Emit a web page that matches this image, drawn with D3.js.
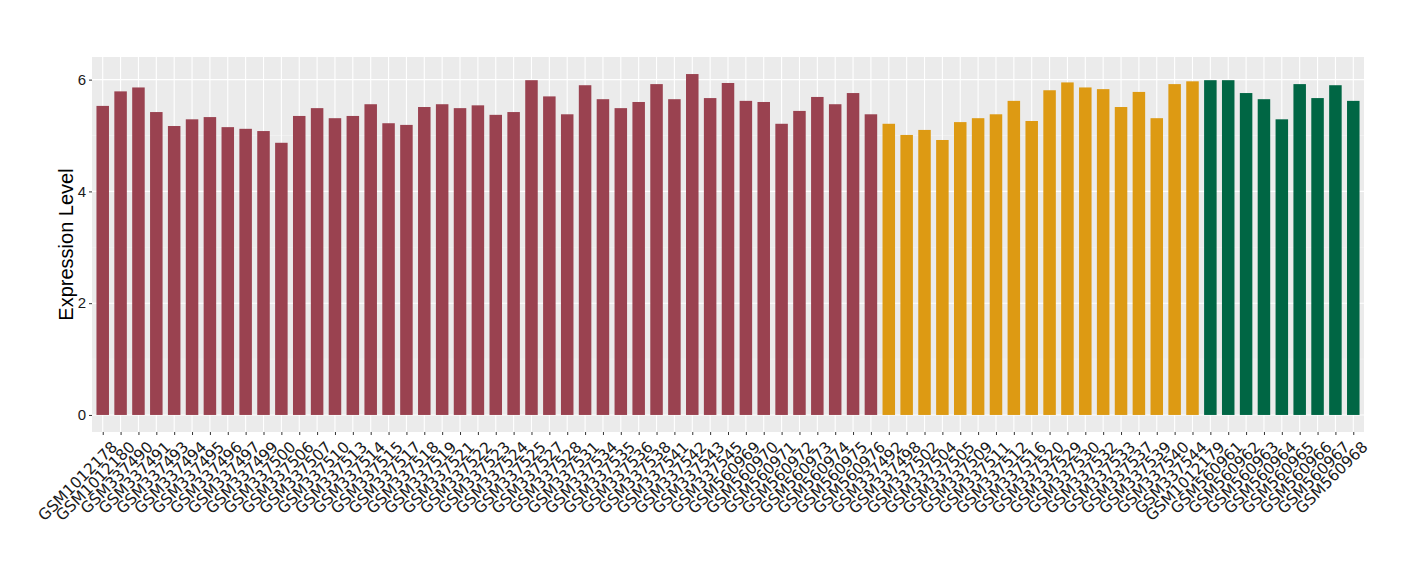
<!DOCTYPE html>
<html>
<head>
<meta charset="utf-8">
<script src="https://cdn.jsdelivr.net/npm/d3@7"></script>
<style>
  body { margin: 0; background: #fff; }
</style>
</head>
<body>
<script>
/*** DATA ***/
let samplesA = ["GSM1012178","GSM1012180","GSM337490","GSM337491","GSM337493","GSM337494","GSM337495","GSM337496","GSM337497","GSM337499","GSM337500","GSM337506","GSM337507","GSM337510","GSM337513","GSM337514","GSM337515","GSM337517","GSM337518","GSM337519","GSM337521","GSM337522","GSM337523","GSM337524","GSM337525","GSM337527","GSM337528","GSM337531","GSM337534","GSM337535","GSM337536","GSM337538","GSM337541","GSM337542","GSM337543","GSM337545","GSM560969","GSM560970","GSM560971","GSM560972","GSM560973","GSM560974","GSM560975","GSM560976"];
let valuesA = [5.53,5.79,5.86,5.42,5.17,5.29,5.33,5.15,5.12,5.08,4.87,5.35,5.49,5.31,5.35,5.56,5.22,5.19,5.51,5.56,5.49,5.54,5.37,5.42,5.99,5.70,5.38,5.90,5.65,5.49,5.60,5.92,5.65,6.10,5.67,5.94,5.62,5.60,5.21,5.44,5.69,5.56,5.76,5.38];

let samplesB = ["GSM337492","GSM337498","GSM337502","GSM337504","GSM337505","GSM337509","GSM337511","GSM337512","GSM337516","GSM337520","GSM337529","GSM337530","GSM337532","GSM337533","GSM337537","GSM337539","GSM337540","GSM337544"];
let valuesB = [5.21,5.01,5.10,4.92,5.24,5.31,5.38,5.62,5.26,5.81,5.95,5.86,5.83,5.51,5.78,5.31,5.92,5.97];

let samplesC = ["GSM1012179","GSM560961","GSM560962","GSM560963","GSM560964","GSM560965","GSM560966","GSM560967","GSM560968"];
let valuesC = [5.99,5.99,5.76,5.65,5.29,5.92,5.67,5.90,5.62];

let groupColors = ["#9a4250", "#dd9a13", "#006644"];
let yTicks = [0, 2, 4, 6];

let data = [];
[[samplesA, valuesA], [samplesB, valuesB], [samplesC, valuesC]].forEach((g, gi) => {
  g[0].forEach((s, i) => data.push({ sample: s, value: g[1][i], group: gi }));
});

/*** GRAPH ***/
let margin = { top: 57, right: 56, bottom: 148, left: 92 },
  width = 1420 - margin.left - margin.right,
  height = 580 - margin.top - margin.bottom;

let svg = d3.select("body").append("svg")
  .attr("width", 1420)
  .attr("height", 580)
  .append("g")
  .attr("transform", "translate(" + margin.left + "," + margin.top + ")");

/* ggplot style discrete scale: 0.6 band expansion each side */
let n = data.length;
let step = width / (n - 1 + 1.2);
let x = d3.scalePoint()
  .domain(data.map(d => d.sample))
  .range([0.6 * step, width - 0.6 * step]);

let maxV = d3.max(data, d => d.value);
let y = d3.scaleLinear()
  .domain([-0.05 * maxV, maxV * 1.05])
  .range([height, 0]);

/* panel */
svg.append("rect")
  .attr("width", width)
  .attr("height", height)
  .attr("fill", "#ebebeb");

/* minor grid */
svg.selectAll(".minor")
  .data([1, 3, 5])
  .enter().append("line")
  .attr("x1", 0).attr("x2", width)
  .attr("y1", d => y(d)).attr("y2", d => y(d))
  .attr("stroke", "#f5f5f5")
  .attr("stroke-width", 0.6);

/* major grid */
svg.selectAll(".hmajor")
  .data(yTicks)
  .enter().append("line")
  .attr("x1", 0).attr("x2", width)
  .attr("y1", d => y(d)).attr("y2", d => y(d))
  .attr("stroke", "#fff")
  .attr("stroke-width", 1.1);

svg.selectAll(".vmajor")
  .data(data)
  .enter().append("line")
  .attr("x1", d => x(d.sample)).attr("x2", d => x(d.sample))
  .attr("y1", 0).attr("y2", height)
  .attr("stroke", "#fff")
  .attr("stroke-width", 1.1);

/* bars */
let bw = step * 0.7;
svg.selectAll(".bar")
  .data(data)
  .enter().append("rect")
  .attr("x", d => x(d.sample) - bw / 2)
  .attr("width", bw)
  .attr("y", d => y(d.value))
  .attr("height", d => y(0) - y(d.value))
  .attr("fill", d => groupColors[d.group]);

/* axes */
let yAxis = svg.append("g")
  .call(d3.axisLeft(y).tickValues(yTicks).tickSize(3).tickPadding(3).tickFormat(d3.format("d")));
yAxis.select(".domain").remove();
yAxis.selectAll(".tick line").attr("stroke", "#333");
yAxis.selectAll("text")
  .attr("fill", "#1a1a1a")
  .attr("font-family", "Liberation Sans, Arial, sans-serif")
  .attr("font-size", 15);

let xAxis = svg.append("g")
  .attr("transform", "translate(0," + height + ")")
  .call(d3.axisBottom(x).tickSize(3).tickPadding(2));
xAxis.select(".domain").remove();
xAxis.selectAll(".tick line").attr("stroke", "#333");
xAxis.selectAll("text")
  .attr("fill", "#1a1a1a")
  .attr("font-family", "DejaVu Sans, sans-serif")
  .attr("font-size", 15.5)
  .attr("text-anchor", "end")
  .attr("dy", null)
  .attr("transform", "translate(7,8) rotate(-45)")
  .attr("y", 0)
  .attr("x", 0)
  .attr("dominant-baseline", "hanging");

/* y title */
svg.append("text")
  .attr("transform", "rotate(-90)")
  .attr("x", -height / 2)
  .attr("y", -19)
  .attr("text-anchor", "middle")
  .attr("font-family", "Liberation Sans, Arial, sans-serif")
  .attr("font-size", 20)
  .attr("fill", "#000")
  .text("Expression Level");
</script>
</body>
</html>
